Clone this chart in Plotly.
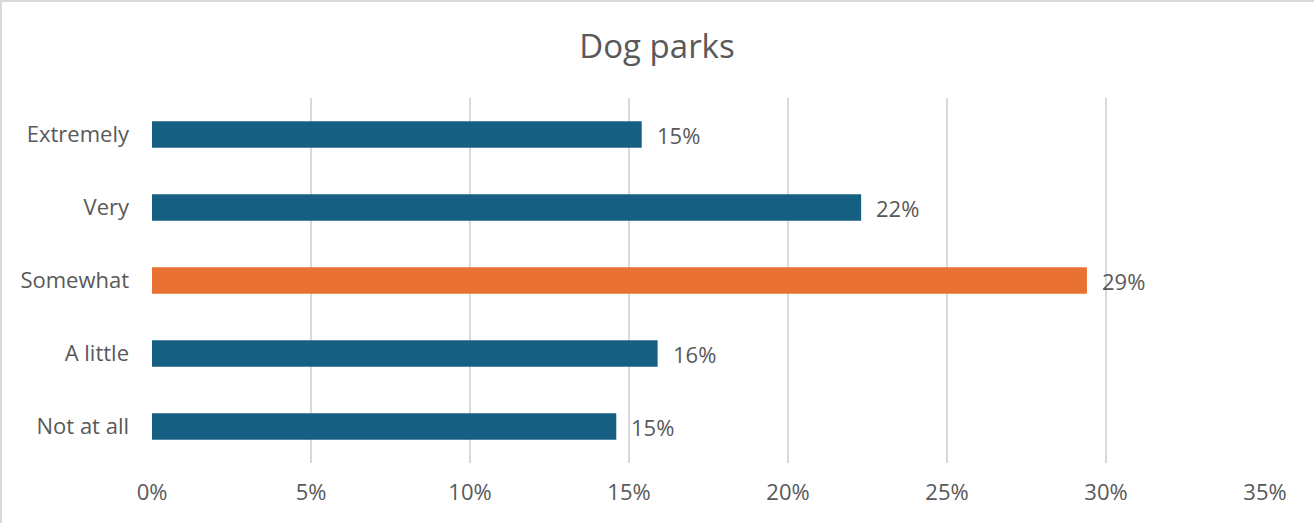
import plotly.graph_objects as go

categories = ["Extremely", "Very", "Somewhat", "A little", "Not at all"]
shares = [0.154, 0.223, 0.294, 0.159, 0.146]
bar_colors = ["#156082", "#156082", "#E97132", "#156082", "#156082"]
x_ticks = [0, 0.05, 0.10, 0.15, 0.20, 0.25, 0.30, 0.35]

FONT = "'Open Sans', Lato, sans-serif"
GREY = "#595959"

fig = go.Figure(go.Bar(
    x=shares,
    y=categories,
    orientation="h",
    marker=dict(color=bar_colors, line=dict(width=0)),
    hoverinfo="skip",
))

# value labels a little right of each bar end
for cat, v in zip(categories, shares):
    fig.add_annotation(
        x=v, y=cat, text=f"{round(v * 100)}%",
        showarrow=False, xanchor="left", xshift=13,
        font=dict(family=FONT, size=22, color=GREY),
    )

fig.update_layout(
    width=1314, height=523,
    title=dict(text="Dog parks", x=0.5, xanchor="center", y=0.912, yanchor="middle",
               font=dict(family=FONT, size=33, color=GREY)),
    margin=dict(l=152, r=49, t=98, b=60),
    bargap=0.64,
    plot_bgcolor="white",
    paper_bgcolor="white",
    showlegend=False,
    xaxis=dict(
        range=[0, 0.35], tickvals=x_ticks, tickformat=".0%",
        showgrid=True, gridcolor="#d9d9d9", gridwidth=2,
        zeroline=False, showline=False,
        ticklabelstandoff=14,
        tickfont=dict(family=FONT, size=22, color=GREY),
    ),
    yaxis=dict(
        categoryorder="array", categoryarray=categories, autorange="reversed",
        showgrid=False, zeroline=False, showline=False,
        ticklabelstandoff=22,
        tickfont=dict(family=FONT, size=22, color=GREY),
    ),
    # grey frame edges along the top and left of the chart
    shapes=[
        dict(type="line", xref="paper", yref="y domain",
             x0=-152 / 1113, x1=1 + 49 / 1113, y0=1 + 97 / 365, y1=1 + 97 / 365,
             line=dict(color="#d9d9d9", width=2), layer="below"),
        dict(type="line", xref="x domain", yref="y domain",
             x0=-151 / 1113, x1=-151 / 1113, y0=-60 / 365, y1=1 + 98 / 365,
             line=dict(color="#d9d9d9", width=2), layer="below"),
    ],
)

# drop the default 8px body margin so the figure sits at the page corner
fig.write_html("out.html", config={"displayModeBar": False},
               post_script="document.body.style.margin='0';")
